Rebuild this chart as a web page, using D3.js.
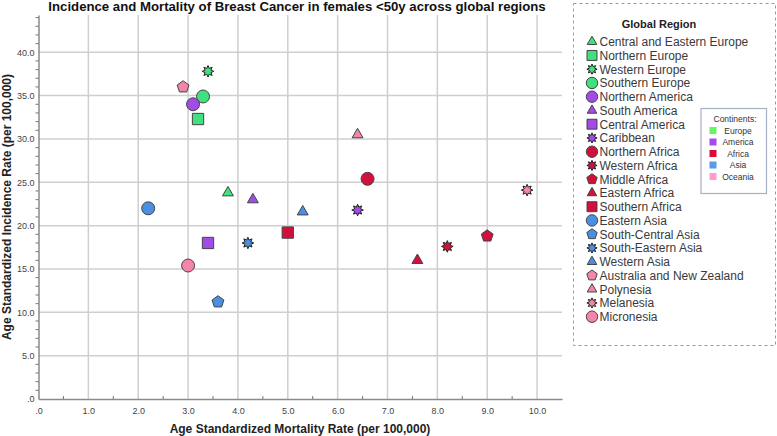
<!DOCTYPE html>
<html><head><meta charset="utf-8">
<script src="https://cdn.jsdelivr.net/npm/d3@7"></script>
<style>body{margin:0;background:#fff;}svg{display:block;font-family:"Liberation Sans",Arial,sans-serif;}</style>
</head><body><svg id="c" width="777" height="436"></svg>
<script>
const regions = ["Central and Eastern Europe","Northern Europe","Western Europe","Southern Europe","Northern America","South America","Central America","Caribbean","Northern Africa","Western Africa","Middle Africa","Eastern Africa","Southern Africa","Eastern Asia","South-Central Asia","South-Eastern Asia","Western Asia","Australia and New Zealand","Polynesia","Melanesia","Micronesia"];
const continentOf = ["Europe","Europe","Europe","Europe","America","America","America","America","Africa","Africa","Africa","Africa","Africa","Asia","Asia","Asia","Asia","Oceania","Oceania","Oceania","Oceania"];
const shapeOf = ["triangle","square","star","circle","circle","triangle","square","star","circle","star","pentagon","triangle","square","circle","pentagon","star","triangle","pentagon","triangle","star","circle"];
const mortality = [3.8,3.2,3.4,3.3,3.1,4.3,3.4,6.4,6.6,8.2,9.0,7.6,5.0,2.2,3.6,4.2,5.3,2.9,6.4,9.8,3.0];
const incidence = [23.8,32.3,37.8,34.9,34.0,23.0,18.0,21.8,25.4,17.6,18.8,16.0,19.2,22.0,11.2,18.0,21.6,36.0,30.5,24.1,15.4];
const continents = ["Europe","America","Africa","Asia","Oceania"];
const continentColors = ["#40e07e","#a24ce8","#d2103c","#4c8fe0","#f384ac"];
const swatchColors = ["#66f566","#aa48f0","#dc0a36","#5a9ae8","#ff9ccc"];
const xTicks = [0,1,2,3,4,5,6,7,8,9,10];
const yTicks = [0,5,10,15,20,25,30,35,40];

const svg = d3.select("#c");
const x = d3.scaleLinear().domain([0,10.5]).range([38.5,562]);
const y = d3.scaleLinear().domain([0,44.3]).range([399,15]);
const color = d3.scaleOrdinal().domain(continents).range(continentColors);
const fmt = v => v===0 ? ".0" : v.toFixed(1);

// grid
svg.append("g").selectAll("line").data(xTicks.filter(d=>d>0)).join("line")
  .attr("x1",d=>x(d)).attr("x2",d=>x(d)).attr("y1",y(44.3)).attr("y2",y(0))
  .attr("stroke","#cfcfcf").attr("stroke-width",1.5);
svg.append("g").selectAll("line").data(yTicks.filter(d=>d>0)).join("line")
  .attr("y1",d=>y(d)).attr("y2",d=>y(d)).attr("x1",x(0)).attr("x2",x(10.5))
  .attr("stroke","#cfcfcf").attr("stroke-width",1.5);

// axes
const xAxis = d3.axisBottom(x).tickValues(xTicks).tickFormat(fmt).tickSize(0).tickPadding(9);
const gx = svg.append("g").attr("transform",`translate(0,${y(0)})`).call(xAxis);
const yAxis = d3.axisLeft(y).tickValues(yTicks).tickFormat(fmt).tickSize(0).tickPadding(4);
const gy = svg.append("g").attr("transform",`translate(${x(0)},0)`).call(yAxis);
[gx,gy].forEach(g=>{
  g.select(".domain").attr("stroke","#8a8a8a").attr("stroke-width",1.5);
  g.selectAll("text").attr("fill","#444").attr("font-size",9).attr("font-family","Liberation Sans, Arial, sans-serif");
});
// minor ticks
svg.append("g").selectAll("line").data(d3.range(0.5,10.5,1)).join("line")
  .attr("x1",d=>x(d)).attr("x2",d=>x(d)).attr("y1",y(0)).attr("y2",y(0)-3)
  .attr("stroke","#777").attr("stroke-width",1);
svg.append("g").selectAll("line").data(d3.range(1,45,1).filter(d=>d%5!==0)).join("line")
  .attr("y1",d=>y(d)).attr("y2",d=>y(d)).attr("x1",x(0)).attr("x2",x(0)-3)
  .attr("stroke","#777").attr("stroke-width",1);

// titles
svg.append("text").attr("x",297).attr("y",11).attr("text-anchor","middle")
  .attr("font-size",13.2).attr("font-weight","bold").attr("fill","#111")
  .text("Incidence and Mortality of Breast Cancer in females <50y across global regions");
svg.append("text").attr("x",300).attr("y",433).attr("text-anchor","middle")
  .attr("font-size",12).attr("font-weight","bold").attr("fill","#222")
  .text("Age Standardized Mortality Rate (per 100,000)");
svg.append("text").attr("transform","translate(11,207) rotate(-90)").attr("text-anchor","middle")
  .attr("font-size",12).attr("font-weight","bold").attr("fill","#222")
  .text("Age Standardized Incidence Rate (per 100,000)");

// marker shapes
function starPath(ro,ri,n){
  const pts=[];
  for(let i=0;i<2*n;i++){const r=i%2?ri:ro;const a=Math.PI*i/n - Math.PI/2;pts.push([r*Math.cos(a),r*Math.sin(a)]);}
  return "M"+pts.map(p=>p[0].toFixed(2)+","+p[1].toFixed(2)).join("L")+"Z";
}
function polyPath(r,n,rot){
  const pts=[];
  for(let i=0;i<n;i++){const a=rot+2*Math.PI*i/n;pts.push([r*Math.cos(a),r*Math.sin(a)]);}
  return "M"+pts.map(p=>p[0].toFixed(2)+","+p[1].toFixed(2)).join("L")+"Z";
}
function shapePath(s,k){
  k=k||1;
  switch(s){
    case "circle": return d3.symbol(d3.symbolCircle, 132*k*k)();
    case "square": return d3.symbol(d3.symbolSquare, 128*k*k)();
    case "triangle": return polyPath(6.3*k,3,-Math.PI/2);
    case "pentagon": return polyPath(6.2*k,5,-Math.PI/2);
    case "star": return starPath(5.8*k,3.2*k,8);
  }
}
const pts = regions.map((r,i)=>({r,c:continentOf[i],s:shapeOf[i],mx:mortality[i],iy:incidence[i]}));
svg.append("g").selectAll("path").data(pts).join("path")
  .attr("transform",d=>`translate(${x(d.mx)},${y(d.iy)})`)
  .attr("d",d=>shapePath(d.s,1))
  .attr("fill",d=>color(d.c)).attr("stroke",d=>d.s==="star"?"#222":"#444").attr("stroke-width",1);

// legend
const lg = svg.append("g");
lg.append("rect").attr("x",573.5).attr("y",3.5).attr("width",202).attr("height",342)
  .attr("fill","none").attr("stroke","#9a9a9a").attr("stroke-dasharray","3,3");
lg.append("text").attr("x",659).attr("y",28).attr("text-anchor","middle")
  .attr("font-size",11).attr("font-weight","bold").attr("fill","#222").text("Global Region");
const ly = d3.scaleLinear().domain([0,20]).range([41.7,316.7]);
const items = lg.selectAll("g.it").data(pts).join("g").attr("class","it")
  .attr("transform",(d,i)=>`translate(592,${ly(i)})`);
items.append("path").attr("d",d=>shapePath(d.s,0.88))
  .attr("fill",d=>color(d.c)).attr("stroke",d=>d.s==="star"?"#222":"#444").attr("stroke-width",1);
items.append("text").attr("x",7.5).attr("y",4.3).attr("font-size",12).attr("fill","#3a3a3a").text(d=>d.r);

// continents box
const cb = svg.append("g");
cb.append("rect").attr("x",701).attr("y",108.5).attr("width",65.5).attr("height",85)
  .attr("fill","#fff").attr("stroke","#a8b0c4").attr("stroke-width",1.2);
cb.append("text").attr("x",735).attr("y",122).attr("text-anchor","middle").attr("font-size",8.5).attr("fill","#333").text("Continents:");
const ci = cb.selectAll("g.ci").data(continents).join("g").attr("class","ci")
  .attr("transform",(d,i)=>`translate(0,${130.5+i*11.5})`);
ci.append("rect").attr("x",709.5).attr("y",-3.5).attr("width",7).attr("height",7).attr("fill",(d,i)=>swatchColors[i]);
ci.append("text").attr("x",738).attr("y",3).attr("text-anchor","middle").attr("font-size",8.5).attr("fill","#333").text(d=>d);
</script></body></html>
